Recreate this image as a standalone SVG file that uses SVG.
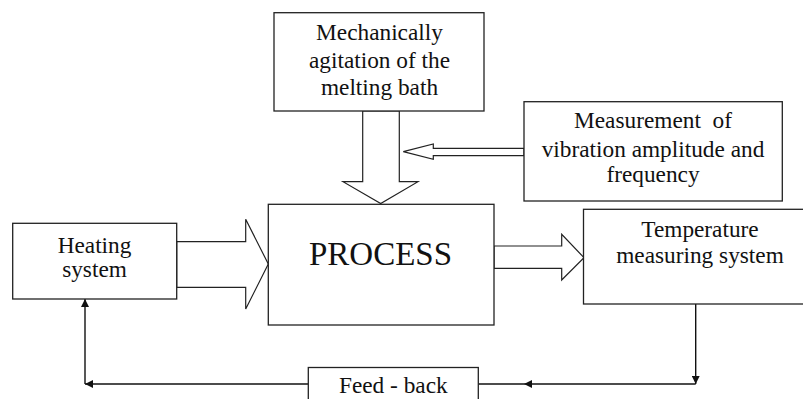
<svg xmlns="http://www.w3.org/2000/svg" width="803" height="399" viewBox="0 0 803 399">
  <defs>
    <style>
      .box { fill: #fff; stroke: #222; stroke-width: 1.3; }
      .blk { fill: #fff; stroke: #222; stroke-width: 1.2; stroke-linejoin: miter; }
      .ln { fill: none; stroke: #111; stroke-width: 1.4; }
      .t { font-size: 23.3px; fill: #111; text-anchor: middle; white-space: pre; }
      .big { font-size: 33px; }
    </style>
    <marker id="ah" viewBox="0 0 10 10" refX="10" refY="5" markerWidth="9" markerHeight="8" markerUnits="userSpaceOnUse" orient="auto">
      <path d="M0,0 L10,5 L0,10 Z" fill="#111"/>
    </marker>
  </defs>

  <g id="connectors">
    <polygon class="blk" points="362.7,111 399.3,111 399.3,181.7 418,181.7 380.7,203.5 343,181.7 362.7,181.7"/>
    <polygon class="blk" points="403.3,151.7 433.3,144 433.3,148.3 524,148.3 524,155.7 433.3,155.7 433.3,159.3"/>
    <polygon class="blk" points="176.7,241.7 245.7,241.7 245.7,219.3 268.3,264 245.7,309 245.7,287.3 176.7,287.3"/>
    <polygon class="blk" points="494,246 561.7,246 561.7,234.3 584,257.7 561.7,280 561.7,268.3 494,268.3"/>
    <path class="ln" d="M695.7,304 L695.7,384" marker-end="url(#ah)"/>
    <path class="ln" d="M695.7,384 L524,384" marker-end="url(#ah)"/>
    <path class="ln" d="M524,384 L478.3,384"/>
    <path class="ln" d="M308.3,384 L85,384" marker-end="url(#ah)"/>
    <path class="ln" d="M85,384 L85,299" marker-end="url(#ah)"/>
  </g>

  <g font-family="Liberation Serif, Times New Roman, Tinos, DejaVu Serif, serif">
  <g id="agitation">
    <rect class="box" x="274" y="12.7" width="210" height="98.3"/>
    <text class="t" x="379.5" y="39.5">Mechanically</text>
    <text class="t" x="379.5" y="67.5">agitation of the</text>
    <text class="t" x="379.5" y="95">melting bath</text>
  </g>

  <g id="vibration">
    <rect class="box" x="524" y="101.7" width="258.3" height="99.3"/>
    <text class="t" x="653" y="128.3">Measurement  of</text>
    <text class="t" x="653" y="156.7">vibration amplitude and</text>
    <text class="t" x="653" y="181.7">frequency</text>
  </g>

  <g id="heating">
    <rect class="box" x="12.7" y="223.3" width="164" height="75.7"/>
    <text class="t" x="94.5" y="253">Heating</text>
    <text class="t" x="94.5" y="277">system</text>
  </g>

  <g id="process">
    <rect class="box" x="268.3" y="204.3" width="225.7" height="120.7"/>
    <text class="t big" x="380.5" y="265">PROCESS</text>
  </g>

  <g id="temperature">
    <rect class="box" x="583.5" y="209.3" width="225" height="94.7"/>
    <text class="t" x="700" y="236.7">Temperature</text>
    <text class="t" x="700" y="263">measuring system</text>
  </g>

  <g id="feedback">
    <rect class="box" x="308.3" y="367.5" width="170" height="40"/>
    <text class="t" x="393.3" y="393.3">Feed - back</text>
  </g>
  </g>
</svg>
